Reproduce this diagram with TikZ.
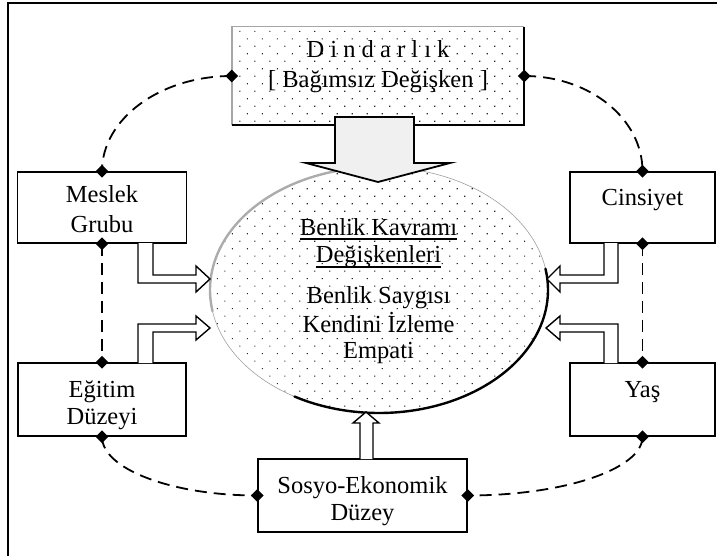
\documentclass[tikz,border=0pt]{standalone}
\usepackage{fontspec}
\setmainfont{Liberation Serif}
\usetikzlibrary{patterns.meta,shapes.geometric,calc}
\begin{document}
\begin{tikzpicture}[x=1pt,y=-1pt,
  txt/.style={font=\fontsize{24.5}{29}\selectfont, inner sep=0pt, anchor=base},
  box/.style={draw=black, line width=1.6pt, fill=white, inner sep=0pt},
  dia/.style={diamond, fill=black, inner sep=0pt, minimum width=13pt, minimum height=13pt},
  dsh/.style={line width=1.8pt, dash pattern=on 12pt off 7pt},
  hol/.style={draw=black, line width=1.4pt, fill=white, line join=miter},
  dotfill/.style={pattern={Dots[distance=10.6pt,angle=45,radius=0.8pt]}, pattern color=black!85}
]
\useasboundingbox (0,0) rectangle (717,556);
% frame
\coordinate (fbl) at (8,556);
\coordinate (ftl) at (8,3);
\coordinate (ftr) at (717,3);
\draw[line width=2pt] (fbl) -- (ftl) -- (ftr);

% boxes
\node[dotfill, inner sep=0pt, minimum width=292pt, minimum height=98pt] (dind) at (378,76) {};
\draw[gray!70, line width=1.4pt] (dind.south west) -- (dind.north west) -- (dind.north east);
\draw[line width=2pt] (dind.north east) -- (dind.south east) -- (dind.south west);

\node[box, minimum width=169pt, minimum height=71pt] (meslek) at (102,207.5) {};
\node[box, minimum width=168pt, minimum height=73pt] (egitim) at (102,399.5) {};
\node[box, minimum width=145pt, minimum height=71pt] (cins) at (642.5,207.5) {};
\node[box, minimum width=145pt, minimum height=73pt] (yas) at (642.5,399.5) {};
\node[box, minimum width=209pt, minimum height=73pt] (sosyo) at (362.5,495.5) {};

% dashed connectors
\draw[dsh] (dind.west) .. controls (160,76) and (102,119) .. (meslek.north);
\draw[dsh] (dind.east) .. controls (590,76) and (642.5,119) .. (cins.north);
\draw[dsh] (meslek.south) -- (egitim.north);
\draw[dsh] (cins.south) -- (yas.north);
\draw[dsh] (egitim.south) .. controls (102,469) and (172,495.5) .. (sosyo.west);
\draw[dsh] (yas.south) .. controls (642.5,469) and (564,495.5) .. (sosyo.east);

% ellipse
\node[ellipse, dotfill, draw=gray!75, line width=0.6pt, minimum width=338pt, minimum height=246pt] (ell) at (379,290) {};
\draw[gray!65, line width=2.4pt, line cap=round] plot[domain=98:190, samples=50, smooth] ({379+169*cos(\x)}, {290-123*sin(\x)});
\draw[black, line width=2.4pt, line cap=round] plot[domain=-120:10, samples=70, smooth] ({379+169*cos(\x)}, {290-123*sin(\x)});

% big arrow
\draw[line width=1.8pt, fill=gray!12, line join=miter] (335,117) -- (335,163) -- (306,163) -- (378,182) -- (450,163) -- (414,163) -- (414,117) -- cycle;

% hollow bent arrows
\draw[hol] (138,243) -- (138,283) -- (196,283) -- (196,292) -- (210,279) -- (196,266) -- (196,275) -- (153,275) -- (153,243);
\draw[hol] (138,363) -- (138,324) -- (196,324) -- (196,316) -- (210,328) -- (196,340) -- (196,332) -- (153,332) -- (153,363);
\draw[hol] (618,243) -- (618,283) -- (560,283) -- (560,292) -- (547,279) -- (560,266) -- (560,275) -- (604,275) -- (604,243);
\draw[hol] (618,363) -- (618,324) -- (560,324) -- (560,316) -- (546,328) -- (560,340) -- (560,332) -- (604,332) -- (604,363);
\draw[hol] (360,459) -- (360,423) -- (353,423) -- (366,412) -- (379,423) -- (373,423) -- (373,459);

% diamonds
\foreach \a/\n in {dind.west/d1, dind.east/d2, meslek.north/d3, meslek.south/d4, cins.north/d5, cins.south/d6, egitim.north/d7, egitim.south/d8, yas.north/d9, yas.south/d10, sosyo.west/d11, sosyo.east/d12}
  \node[dia] (\n) at (\a) {};

% texts
\node[txt] (t1) at (378,58) {D i n d a r l ı k};
\node[txt] (t2) at (378,88) {[ Bağımsız Değişken ]};
\node[txt] (t3) at (102,203) {Meslek};
\node[txt] (t4) at (102,232) {Grubu};
\node[txt] (t5) at (642.5,205) {Cinsiyet};
\node[txt] (t6) at (102,397) {Eğitim};
\node[txt] (t7) at (102,424) {Düzeyi};
\node[txt] (t8) at (642.5,397) {Yaş};
\node[txt] (t9) at (362.5,493) {Sosyo-Ekonomik};
\node[txt] (t10) at (362.5,520) {Düzey};
\node[txt] (bk1) at (378.5,235) {Benlik Kavramı};
\node[txt] (bk2) at (378.5,262) {Değişkenleri};
\node[txt] (bk3) at (378.5,303) {Benlik Saygısı};
\node[txt] (bk4) at (378.5,332) {Kendini İzleme};
\node[txt] (bk5) at (378.5,358) {Empati};
\draw[line width=1.4pt] ([yshift=-4pt]bk1.base west) -- ([yshift=-4pt]bk1.base east);
\draw[line width=1.4pt] ([yshift=-5pt]bk2.base west) -- ([yshift=-5pt]bk2.base east);
\end{tikzpicture}
\end{document}
